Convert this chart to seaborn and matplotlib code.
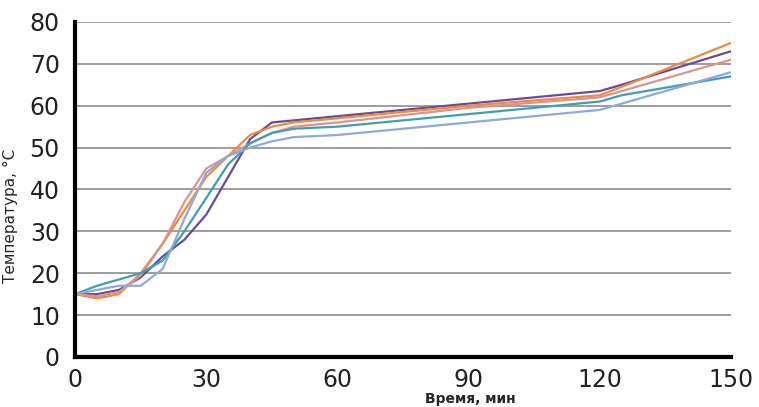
import numpy as np
import pandas as pd
import seaborn as sns
import matplotlib.pyplot as plt

# время, мин
time = [0, 5, 10, 15, 20, 25, 30, 35, 40, 45, 50, 60, 90, 120, 125, 150]

# температура по сериям, °C
s1 = [15, 15, 16, 19, 24, 28, 34, 43, 52, 56, 56.5, 57.5, 60.5, 63.5, 65, 73]
s2 = [15, 14, 15, 20, 27, 35, 43, 48, 53, 55, 56, 57, 60, 62.5, 64.5, 75]
s3 = [15, 14.5, 15.5, 19.5, 27, 37, 45, 48, 51, 53.5, 55, 56, 59.5, 62, 63.5, 71]
s4 = [15, 17, 18.5, 20, 23, 30, 38, 46, 51, 53.5, 54.5, 55, 58, 61, 62.5, 67]
s5 = [15, 16, 17, 17, 21, 33, 44, 48, 50, 51.5, 52.5, 53, 56, 59, 60.5, 68]

series = ["s1", "s2", "s3", "s4", "s5"]
colors = ["#6a4a9c", "#f08a3c", "#d9968f", "#3f9fb0", "#8fa9d8"]

df = pd.DataFrame({
    "t": time * 5,
    "T": s1 + s2 + s3 + s4 + s5,
    "s": sum([[n] * len(time) for n in series], []),
})

sns.set_style("white")
plt.rcParams['font.family'] = ['DejaVu Sans']

fig = plt.figure(figsize=(7.59, 4.07), dpi=100)
ax = fig.add_axes([0.099, 0.123, 0.864, 0.823])

sns.lineplot(data=df, x="t", y="T", hue="s", palette=colors, linewidth=1.6,
             legend=False, ax=ax)
for ln in ax.lines:
    ln.set_solid_joinstyle("round")

ax.set_xlim(0, 150)
ax.set_ylim(0, 80)
ax.set_xticks([0, 30, 60, 90, 120, 150])
ax.set_yticks(range(0, 81, 10))
ax.yaxis.grid(True, color="#8c8c8c", linewidth=1.2)
ax.set_axisbelow(True)
for side in ["top", "right"]:
    ax.spines[side].set_visible(False)
for side in ["left", "bottom"]:
    ax.spines[side].set_linewidth(3)
    ax.spines[side].set_color("black")
ax.tick_params(axis="both", direction="out", length=6, width=3, color="black",
               labelsize=17, labelcolor="#222222")
ax.tick_params(axis="x", pad=2)
ax.tick_params(axis="y", pad=5)

ax.set_xlabel("")
ax.set_ylabel("")
fig.text(0.62, 0.003, "Время, мин", ha="center", va="bottom",
         fontsize=10, fontweight="bold")
fig.text(0.014, 0.47, "Температура, °С", ha="center", va="center",
         rotation=90, fontsize=11)

fig.savefig("out.png", dpi=100)
